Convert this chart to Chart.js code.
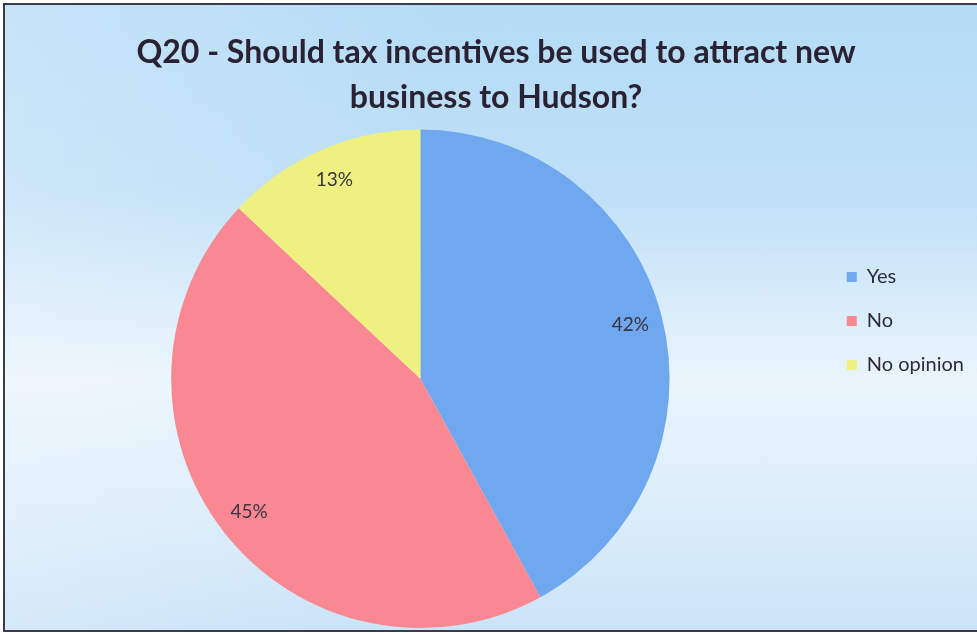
<!DOCTYPE html>
<html>
<head>
<meta charset="utf-8">
<script src="https://cdn.jsdelivr.net/npm/chart.js@4.4.1/dist/chart.umd.min.js"></script>
<style>
  html, body { margin: 0; padding: 0; background: #ffffff; }
  #frame {
    position: absolute; left: 3px; top: 3px; width: 990px; height: 625px;
    border: 2px solid #3c3b49; border-right: none;
    background:
      linear-gradient(100deg, rgba(255,255,255,0.25) 0%, rgba(255,255,255,0) 40%),
      linear-gradient(180deg, #b4dbf6 0%, #bfe0f7 30%, #dcedfa 50%, #eaf5fd 60%, #dcedfa 80%, #cbe4f8 100%);
  }
  #wrap { position: absolute; left: 0; top: 0; width: 977px; height: 633px; }
</style>
</head>
<body>
<div id="frame"></div>
<div id="wrap"><canvas id="chart_q20"></canvas></div>
<script>
var labels = ['Yes', 'No', 'No opinion'];
var shares = [42, 45, 13];
var sliceColors = ['#6fa8ee', '#f98893', '#eef07f'];
var titleLines = ['Q20 - Should tax incentives be used to attract new', 'business to Hudson?'];

// percent text on each slice, placed out toward the rim
var sliceLabels = {
    id: 'sliceLabels',
    afterDatasetsDraw: function(chart) {
        var ctx = chart.ctx;
        var meta = chart.getDatasetMeta(0);
        ctx.save();
        ctx.font = '19px Lato';
        ctx.fillStyle = '#3a3342';
        ctx.textAlign = 'center';
        ctx.textBaseline = 'middle';
        meta.data.forEach(function(arc, i) {
            var mid = (arc.startAngle + arc.endAngle) / 2;
            var r = arc.outerRadius * 0.87;
            ctx.fillText(shares[i] + '%', arc.x + Math.cos(mid) * r, arc.y + Math.sin(mid) * r);
        });
        ctx.restore();
    }
};

var ctx = document.getElementById('chart_q20');
var myChart = new Chart(ctx, {
    type: 'pie',
    data: {
        labels: labels,
        datasets: [{
            data: shares,
            backgroundColor: sliceColors,
            borderWidth: 0
        }]
    },
    options: {
        responsive: true,
        maintainAspectRatio: false,
        animation: false,
        layout: {
            padding: { left: 18, right: 3, top: 14, bottom: 5 }
        },
        plugins: {
            title: {
                display: true,
                text: titleLines,
                color: '#2a2233',
                font: { family: 'Lato', size: 32, weight: 'bold', lineHeight: 1.4 },
                padding: { top: 16, bottom: 10 }
            },
            legend: {
                position: 'right',
                fullSize: true,
                labels: {
                    boxWidth: 10,
                    boxHeight: 10,
                    padding: 24,
                    color: '#2e2a3a',
                    font: { family: 'Lato', size: 20 }
                }
            },
            tooltip: { enabled: false }
        }
    },
    plugins: [sliceLabels]
});
</script>
</body>
</html>
